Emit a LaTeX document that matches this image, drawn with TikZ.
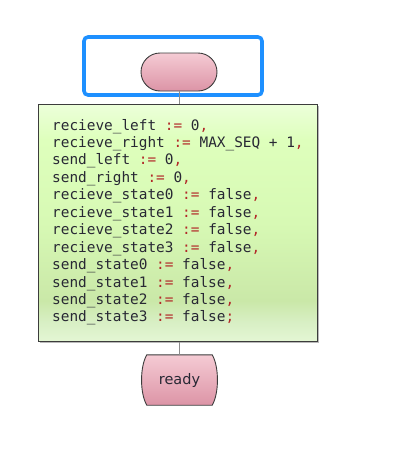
\documentclass[tikz,border=0pt]{standalone}
\usepackage{fontspec}
\usetikzlibrary{shapes.misc,backgrounds}
\newfontfamily\codefont{DejaVu Sans Mono}
\newfontfamily\labelfont{DejaVu Sans}
\definecolor{opred}{RGB}{178,40,40}
\definecolor{codetxt}{RGB}{40,40,52}
\definecolor{selblue}{RGB}{30,144,255}
\definecolor{pinktop}{RGB}{245,203,212}
\definecolor{pinkbot}{RGB}{220,148,166}
\definecolor{gA}{RGB}{236,255,218}
\definecolor{gB}{RGB}{222,255,188}
\definecolor{gC}{RGB}{215,249,180}
\definecolor{gD}{RGB}{202,232,168}
\definecolor{gE}{RGB}{216,239,196}
\definecolor{gF}{RGB}{228,246,212}
\definecolor{edge}{RGB}{60,60,60}
\pgfdeclareverticalshading{greensh}{100bp}{color(0bp)=(gF); color(25bp)=(gF); color(29bp)=(gE); color(33.5bp)=(gD); color(50bp)=(gC); color(67.5bp)=(gB); color(75bp)=(gA); color(100bp)=(gA)}
\newcommand\op[1]{\textcolor{opred}{#1}}
\tikzset{
  selbox/.style={draw=selblue, line width=3.6pt, rounded corners=4pt, minimum width=178pt, minimum height=58pt, inner sep=0pt},
  pill/.style={rounded rectangle, draw=edge, line width=0.9pt, top color=pinktop, bottom color=pinkbot, minimum width=76pt, minimum height=38pt, inner sep=0pt},
  codebox/.style={draw=edge, line width=1pt, shading=greensh, minimum width=279pt, minimum height=237pt, inner sep=0pt},
  codeline/.style={anchor=base west, inner sep=0pt, text=codetxt, font=\codefont\fontsize{14.4}{17}\selectfont},
  readybox/.style={minimum width=65pt, minimum height=50pt, inner sep=0pt, text=codetxt, font=\labelfont\fontsize{14.5}{17}\selectfont},
  conn/.style={draw=gray!90, line width=0.8pt}
}
\begin{document}
\begin{tikzpicture}[x=1pt,y=-1pt]
\useasboundingbox (0,0) rectangle (405,453);
\node[selbox] (sel) at (173,66) {};
\node[pill] (start) at (179,72) {};
\fill[gray!55] (39.5,105.5) rectangle (318.5,342.5);
\node[codebox] (init) at (177.5,222.5) {};
\node[codeline] (l1) at (52,130) {recieve\_left \op{:=} 0\op{,}};
\node[codeline] (l2) at (52,147.45) {recieve\_right \op{:=} MAX\_SEQ + 1\op{,}};
\node[codeline] (l3) at (52,164.9) {send\_left \op{:=} 0\op{,}};
\node[codeline] (l4) at (52,182.35) {send\_right \op{:=} 0\op{,}};
\node[codeline] (l5) at (52,199.8) {recieve\_state0 \op{:=} false\op{,}};
\node[codeline] (l6) at (52,217.25) {recieve\_state1 \op{:=} false\op{,}};
\node[codeline] (l7) at (52,234.7) {recieve\_state2 \op{:=} false\op{,}};
\node[codeline] (l8) at (52,252.15) {recieve\_state3 \op{:=} false\op{,}};
\node[codeline] (l9) at (52,269.6) {send\_state0 \op{:=} false\op{,}};
\node[codeline] (l10) at (52,287.05) {send\_state1 \op{:=} false\op{,}};
\node[codeline] (l11) at (52,304.5) {send\_state2 \op{:=} false\op{,}};
\node[codeline] (l12) at (52,321.95) {send\_state3 \op{:=} false\op{;}};
\node[readybox] (ready) at (179.5,380) {ready};
\begin{scope}[on background layer]
\shade[top color=pinktop, bottom color=pinkbot, draw=edge, line width=0.9pt]
  (ready.north west) -- (ready.north east)
  .. controls ++(7,12) and ++(7,-12) .. (ready.south east)
  -- (ready.south west)
  .. controls ++(-7,-12) and ++(-7,12) .. cycle;
\end{scope}
\draw[conn] (start.south) -- (start.south |- init.north);
\draw[conn] (init.south -| ready.north) -- (ready.north);
\end{tikzpicture}
\end{document}
